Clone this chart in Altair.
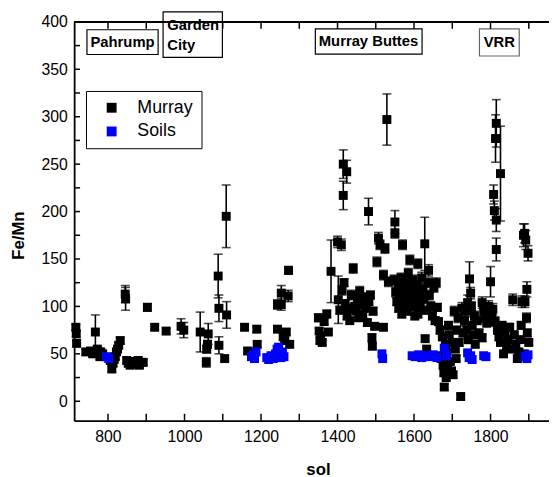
import altair as alt
import pandas as pd

# ---------------- data ----------------
murray_sol = [716, 717, 718, 742, 754, 760, 767, 772, 776, 779, 781, 786, 806, 810, 813, 816, 819, 822, 825, 828, 832,
              845, 846, 849, 853, 858, 864, 870, 876, 879, 882, 887, 892, 903, 922, 952, 991, 998,
              1041, 1057, 1058, 1060, 1062, 1088, 1090, 1090, 1105, 1109, 1110,
              1157, 1165, 1189, 1190, 1243, 1243, 1253, 1253, 1258, 1262, 1266, 1271, 1272, 1275,
              1350, 1352, 1354, 1356, 1360, 1365, 1372, 1376, 1383, 1400, 1402, 1406, 1410, 1412, 1415, 1415, 1417,
              1420, 1424, 1425, 1428, 1432, 1436, 1441, 1445, 1448, 1452, 1455, 1458, 1462, 1466, 1470, 1474, 1478,
              1481, 1482, 1486, 1490, 1491, 1493, 1497, 1503, 1507, 1511, 1520, 1520, 1524, 1529, 1533,
              1548, 1550, 1550, 1552, 1555, 1558, 1560, 1563, 1566, 1568, 1570, 1571, 1574, 1577, 1580, 1582, 1585,
              1588, 1589, 1591, 1594, 1597, 1600, 1602, 1605, 1608, 1610, 1610, 1613, 1616, 1620, 1623, 1626, 1628,
              1629, 1632, 1633, 1636, 1638, 1640, 1644, 1648, 1652, 1655, 1658, 1661, 1664, 1666,
              1668, 1671, 1674, 1676, 1678, 1679, 1682, 1684, 1686, 1688, 1690, 1692, 1695, 1698, 1700, 1702, 1705,
              1708, 1710, 1712, 1715, 1718, 1722, 1725, 1728, 1732, 1735, 1738, 1740, 1742, 1745, 1748, 1750, 1752,
              1755, 1758, 1760, 1765, 1770,
              1778, 1778, 1782, 1786, 1790, 1795, 1800, 1803, 1806, 1808, 1810, 1812, 1813, 1815, 1815, 1815, 1818,
              1822, 1826, 1826, 1830, 1834, 1838, 1842, 1846, 1850, 1854, 1858, 1862, 1866, 1870, 1874, 1878, 1880,
              1882, 1886, 1888, 1889, 1890, 1892, 1894, 1895, 1896, 1898, 1900]
murray_fe_mn = [78, 71, 61, 52, 53, 50, 73, 55, 52, 47, 52, 50, 43, 34, 40, 44, 47, 52, 55, 59, 64,
                113, 108, 43, 40, 38, 42, 40, 42, 43, 38, 41, 41, 99, 78, 74, 79, 75,
                73, 41, 55, 60, 71, 132, 98, 59, 45, 195, 91,
                78, 53, 76, 60, 76, 102, 114, 102, 68, 64, 73, 111, 138, 60,
                88, 74, 64, 69, 62, 84, 92, 73, 137, 168, 107, 96, 165, 117, 217, 250, 125,
                103, 242, 90, 98, 85, 112, 140, 100, 95, 108, 88, 116, 102, 92, 110, 98, 83,
                200, 105, 112, 67, 58, 95, 79, 147, 172, 165, 133, 78, 161, 297, 126,
                128, 189, 177, 115, 105, 120, 98, 110, 130, 92, 165, 118, 103, 125, 112, 95, 135,
                108, 149, 120, 100, 128, 115, 90, 105, 122, 145, 92, 112, 100, 130, 118, 108, 166,
                66, 96, 55, 125, 138, 112, 100, 90, 120, 85, 125, 99, 84, 48,
                75, 45, 68, 38, 30, 15, 60, 25, 52, 35, 80, 70, 42, 32, 62, 28, 95,
                55, 45, 75, 88, 62, 5, 98, 72, 85, 95, 75, 104, 65, 129, 114, 100, 80,
                70, 90, 60, 85, 72,
                104, 67, 95, 88, 83, 100, 126, 90, 97, 218, 201, 84, 277, 293, 191, 160, 75,
                68, 240, 62, 80, 50, 72, 58, 65, 78, 55, 107, 70, 60, 45, 52, 65, 80,
                105, 175, 50, 177, 105, 170, 88, 118, 72, 156, 62]
murray_err = [3, 3, 3, 3, 3, 3, 18, 3, 3, 3, 3, 3, 3, 3, 3, 3, 3, 3, 3, 3, 3,
              9, 12, 3, 3, 3, 3, 3, 3, 3, 3, 3, 3, 4, 3, 3, 8, 8,
              21, 5, 4, 4, 11, 23, 14, 9, 3, 33, 14,
              3, 3, 3, 3, 3, 5, 8, 6, 3, 3, 3, 6, 4, 3,
              4, 3, 3, 3, 3, 3, 4, 3, 33, 6, 25, 4, 6, 5, 15, 15, 4,
              4, 12, 4, 4, 3, 5, 5, 4, 3, 4, 3, 5, 4, 4, 4, 4, 3,
              14, 4, 4, 4, 3, 4, 3, 5, 6, 5, 5, 3, 5, 27, 5,
              5, 12, 5, 5, 4, 5, 4, 5, 5, 4, 5, 5, 4, 5, 5, 4, 5,
              5, 5, 5, 4, 5, 5, 4, 5, 5, 5, 4, 5, 4, 6, 5, 5, 28,
              3, 4, 3, 5, 6, 5, 5, 4, 5, 4, 5, 4, 4, 3,
              4, 3, 4, 3, 3, 3, 3, 3, 3, 3, 4, 4, 3, 3, 4, 3, 5,
              3, 3, 4, 5, 4, 3, 6, 4, 5, 6, 4, 8, 4, 18, 6, 5, 4,
              4, 5, 3, 4, 4,
              6, 4, 5, 5, 5, 6, 16, 6, 6, 10, 10, 5, 25, 25, 12, 12, 4,
              4, 50, 3, 4, 3, 4, 3, 3, 4, 3, 6, 4, 3, 3, 3, 3, 4,
              6, 12, 3, 10, 6, 10, 5, 8, 4, 8, 3]

soils_sol = [796, 802, 1175, 1180, 1183, 1187, 1215, 1220, 1226, 1232, 1238, 1242, 1246, 1248, 1252, 1256, 1260,
             1516, 1518, 1595, 1603, 1612, 1620, 1628, 1640, 1650, 1660, 1679, 1685, 1740, 1744, 1748, 1752,
             1782, 1788, 1890, 1895, 1898]
soils_fe_mn = [47, 45, 47, 49, 45, 52, 46, 44, 48, 45, 50, 55, 57, 50, 46, 52, 47,
               50, 45, 48, 47, 49, 46, 48, 47, 49, 46, 56, 48, 51, 46, 48, 44,
               48, 47, 47, 45, 49]

series_names = ["Murray", "Soils"]
series_colors = ["#000000", "#0000ff"]

x_tick_values = [800, 900, 1000, 1100, 1200, 1300, 1400, 1500, 1600, 1700, 1800, 1900]
x_label_values = [800, 1000, 1200, 1400, 1600, 1800]
y_tick_values = [0, 25, 50, 75, 100, 125, 150, 175, 200, 225, 250, 275, 300, 325, 350, 375]
y_label_values = [0, 50, 100, 150, 200, 250, 300, 350, 400]

# site boxes (sol range, Fe/Mn range) and labels
box_names = ["Pahrump", "Garden City", "Murray Buttes", "VRR"]
box_x0 = [745, 944, 1342, 1771]
box_x1 = [931, 1099, 1621, 1875]
box_y0 = [365.6, 362.5, 366, 364]
box_y1 = [391.7, 410.5, 392.7, 392.7]
box_stroke = ["#000000", "#000000", "#000000", "#666666"]

center_labels = ["Pahrump", "Murray Buttes", "VRR"]
center_label_x = [838, 1481, 1823]
center_label_y = [378.8, 379.4, 378.5]
left_labels = ["Garden", "City"]
left_label_x = [955, 955]
left_label_y = [396.5, 375.5]

# ---------------- tables ----------------
pts = pd.DataFrame({
    "sol": murray_sol + soils_sol,
    "fe_mn": murray_fe_mn + soils_fe_mn,
    "series": ["Murray"] * len(murray_sol) + ["Soils"] * len(soils_sol),
})
err = pd.DataFrame({"sol": murray_sol, "fe_mn": murray_fe_mn, "err": murray_err})
err["lo"] = err["fe_mn"] - err["err"]
err["hi"] = err["fe_mn"] + err["err"]

boxes = pd.DataFrame({"name": box_names, "x0": box_x0, "x1": box_x1, "y0": box_y0, "y1": box_y1,
                      "stroke": box_stroke})
clab = pd.DataFrame({"label": center_labels, "x": center_label_x, "y": center_label_y})
llab = pd.DataFrame({"label": left_labels, "x": left_label_x, "y": left_label_y})
xt = pd.DataFrame({"v": x_tick_values})
yt = pd.DataFrame({"v": y_tick_values})

W, H = 481, 404
FONT = "Liberation Sans"

xs = alt.Scale(domain=[711.5, 1952.8], nice=False, zero=False)
ys = alt.Scale(domain=[-20.5, 400], nice=False, zero=False)

x_axis = alt.Axis(values=x_label_values, format="d", ticks=False, grid=False, domainColor="black",
                  domainWidth=1.8, labelFont=FONT, labelFontSize=16, labelColor="black", labelPadding=8,
                  titleFont=FONT, titleFontSize=17, titleFontWeight="bold", titleColor="black",
                  titleX=247, titleY=54, titleBaseline="alphabetic")
y_axis = alt.Axis(values=y_label_values, format="d", ticks=False, grid=False, domainColor="black",
                  domainWidth=1.8, labelFont=FONT, labelFontSize=16, labelColor="black", labelPadding=7,
                  titleFont=FONT, titleFontSize=17, titleFontWeight="bold", titleColor="black",
                  titleX=-56, titleY=216, titleBaseline="middle")


def X(field):
    return alt.X(field, type="quantitative", scale=xs, axis=x_axis, title="sol")


def Y(field):
    return alt.Y(field, type="quantitative", scale=ys, axis=y_axis, title="Fe/Mn")


box_layer = alt.Chart(boxes).mark_rect(fill="white", strokeWidth=1.2).encode(
    x=X("x0"), x2="x1", y=Y("y0"), y2="y1",
    stroke=alt.Stroke("stroke:N", scale=None),
)
clab_layer = alt.Chart(clab).mark_text(font=FONT, fontSize=15, fontWeight="bold", color="black",
                                       align="center", baseline="middle").encode(
    x=X("x"), y=Y("y"), text="label:N")
llab_layer = alt.Chart(llab).mark_text(font=FONT, fontSize=15, fontWeight="bold", color="black",
                                       align="left", baseline="middle").encode(
    x=X("x"), y=Y("y"), text="label:N")

bar_layer = alt.Chart(err).mark_rule(color="black", strokeWidth=1.6).encode(
    x=X("sol"), y=Y("lo"), y2="hi")
cap_lo = alt.Chart(err).mark_tick(color="black", orient="horizontal", size=9, thickness=1.6).encode(
    x=X("sol"), y=Y("lo"))
cap_hi = alt.Chart(err).mark_tick(color="black", orient="horizontal", size=9, thickness=1.6).encode(
    x=X("sol"), y=Y("hi"))

pt_layer = alt.Chart(pts).mark_square(size=82, filled=True, opacity=1).encode(
    x=X("sol"), y=Y("fe_mn"),
    color=alt.Color("series:N", scale=alt.Scale(domain=series_names, range=series_colors),
                    legend=alt.Legend(title=None, orient="none", legendX=12, legendY=70,
                                      strokeColor="black", fillColor="white", padding=8,
                                      symbolType="square", symbolSize=100, symbolStrokeWidth=0,
                                      symbolOffset=9, labelOffset=17, rowPadding=6,
                                      labelFont=FONT, labelFontSize=18, labelColor="black")),
)

xt_bottom = alt.Chart(xt).mark_rule(color="black", strokeWidth=1.5).encode(
    x=X("v"), y=alt.value(H), y2=alt.value(H - 7))
xt_top = alt.Chart(xt).mark_rule(color="black", strokeWidth=1.5).encode(
    x=X("v"), y=alt.value(0), y2=alt.value(7))
yt_left = alt.Chart(yt).mark_rule(color="black", strokeWidth=1.5).encode(
    y=Y("v"), x=alt.value(0), x2=alt.value(6))
top_line = alt.Chart(xt).mark_rule(color="black", strokeWidth=1.8).encode(
    x=alt.value(0), x2=alt.value(W), y=alt.value(0))

chart = alt.layer(
    box_layer, clab_layer, llab_layer, bar_layer, cap_lo, cap_hi, pt_layer,
    xt_bottom, xt_top, yt_left, top_line
).properties(
    width=W, height=H,
    autosize=alt.AutoSizeParams(type="none"),
    padding={"left": 67, "top": 11, "right": 0, "bottom": 55},
    background="white",
).configure_view(stroke="transparent")

chart.save("out.html", embed_options={"renderer": "svg", "actions": False})
